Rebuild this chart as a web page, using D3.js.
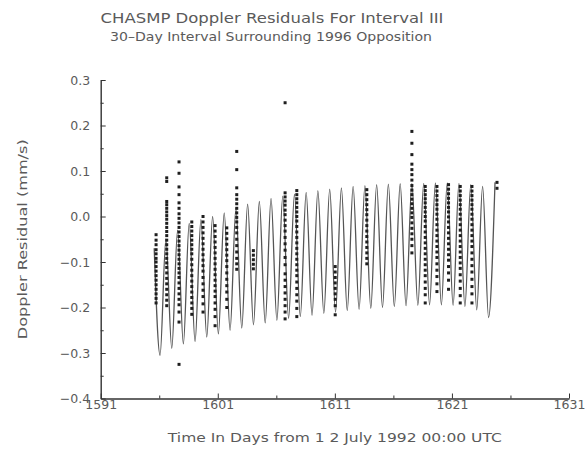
<!DOCTYPE html>
<html>
<head>
<meta charset="utf-8">
<script src="https://cdn.jsdelivr.net/npm/d3@7"></script>
<style>
  html, body { margin: 0; padding: 0; background: #fff; }
  svg { display: block; }
  text { font-family: "DejaVu Sans", sans-serif; fill: #5a5a5a; }
</style>
</head>
<body>
<svg id="chart" width="587" height="451"></svg>
<script>
// Axis settings
const xTicksMajor = [1591, 1601, 1611, 1621, 1631];
const xTicksMinor = [1596, 1606, 1616, 1626];
const yTicksMajor = [-0.4, -0.3, -0.2, -0.1, 0.0, 0.1, 0.2, 0.3];
const yTicksMinor = [-0.35, -0.25, -0.15, -0.05, 0.05, 0.15, 0.25];

// Model curve: successive daily maxima and minima of the fitted residual signal
const modelT = [
  1595.57, 1596.07, 1596.57, 1597.07, 1597.57, 1598.06, 1598.56, 1599.06, 1599.56, 1600.06,
  1600.56, 1601.05, 1601.55, 1602.05, 1602.55, 1603.05, 1603.55, 1604.05, 1604.55, 1605.05,
  1605.55, 1606.05, 1606.55, 1607.05, 1607.55, 1608.05, 1608.55, 1609.05, 1609.55, 1610.06,
  1610.56, 1611.06, 1611.56, 1612.06, 1612.56, 1613.07, 1613.57, 1614.07, 1614.57, 1615.07,
  1615.57, 1616.08, 1616.58, 1617.08, 1617.58, 1618.09, 1618.59, 1619.09, 1619.59, 1620.10,
  1620.60, 1621.10, 1621.60, 1622.11, 1622.61, 1623.12, 1623.62, 1624.13, 1624.68
];
const modelV = [
  -0.070, -0.305, -0.050, -0.290, -0.030, -0.280, -0.015, -0.275, -0.007, -0.265,
   0.000, -0.258,  0.008, -0.250,  0.018, -0.245,  0.027, -0.238,  0.033, -0.234,
   0.040, -0.228,  0.045, -0.224,  0.049, -0.220,  0.053, -0.217,  0.057, -0.213,
   0.060, -0.210,  0.063, -0.207,  0.066, -0.204,  0.068, -0.202,  0.070, -0.200,
   0.071, -0.198,  0.072, -0.196,  0.073, -0.195,  0.073, -0.194,  0.074, -0.194,
   0.074, -0.195,  0.073, -0.198,  0.070, -0.205,  0.066, -0.222,  0.075
];

// Tracking passes: time of each pass and the Doppler residuals measured in it (mm/s)
const passTimes = [
  1595.73, 1596.64, 1597.69, 1598.78, 1599.74, 1600.77, 1601.77, 1602.62, 1604.04,
  1606.75, 1607.75, 1611.03, 1613.73, 1617.58, 1618.72, 1619.72, 1620.71, 1621.71,
  1622.71, 1624.85
];
const passResiduals = [
  [-0.040, -0.052, -0.062, -0.073, -0.082, -0.092, -0.100, -0.110, -0.120, -0.130, -0.140,
   -0.150, -0.160, -0.170, -0.180, -0.190],
  [0.085, 0.077, 0.033, 0.026, 0.018, 0.010, 0.002, -0.006, -0.015, -0.024, -0.033, -0.042,
   -0.052, -0.062, -0.072, -0.082, -0.092, -0.102, -0.112, -0.124, -0.136, -0.148, -0.160,
   -0.172, -0.184, -0.196],
  [0.120, 0.095, 0.065, 0.048, 0.030, 0.018, 0.006, -0.004, -0.014, -0.024, -0.034, -0.044,
   -0.054, -0.064, -0.074, -0.084, -0.094, -0.104, -0.114, -0.124, -0.134, -0.146, -0.158,
   -0.170, -0.182, -0.194, -0.210, -0.232, -0.325],
  [-0.012, -0.022, -0.032, -0.042, -0.052, -0.062, -0.072, -0.082, -0.094, -0.106, -0.118,
   -0.130, -0.142, -0.154, -0.166, -0.178, -0.190, -0.202, -0.215],
  [0.000, -0.012, -0.024, -0.036, -0.048, -0.060, -0.072, -0.084, -0.096, -0.108, -0.120,
   -0.134, -0.148, -0.162, -0.176, -0.192, -0.210],
  [-0.020, -0.032, -0.044, -0.056, -0.068, -0.080, -0.092, -0.104, -0.116, -0.128, -0.140,
   -0.152, -0.164, -0.176, -0.190, -0.204, -0.220, -0.240],
  [-0.025, -0.037, -0.049, -0.061, -0.073, -0.085, -0.097, -0.110, -0.124, -0.138, -0.152,
   -0.166, -0.182, -0.200],
  [0.143, 0.103, 0.063, 0.048, 0.038, 0.028, 0.018, 0.008, -0.002, -0.012, -0.024, -0.036,
   -0.050, -0.064, -0.078, -0.092, -0.104, -0.116],
  [-0.075, -0.085, -0.095, -0.105, -0.115],
  [0.250, 0.052, 0.043, 0.034, 0.025, 0.014, 0.004, -0.008, -0.020, -0.032, -0.046, -0.060,
   -0.074, -0.090, -0.106, -0.126, -0.140, -0.154, -0.168, -0.182, -0.196, -0.210, -0.225],
  [0.057, 0.048, 0.039, 0.030, 0.020, 0.010, 0.000, -0.010, -0.022, -0.034, -0.046, -0.058,
   -0.070, -0.082, -0.094, -0.106, -0.118, -0.130, -0.144, -0.158, -0.172, -0.186, -0.202,
   -0.220],
  [-0.110, -0.122, -0.134, -0.146, -0.158, -0.170, -0.182, -0.196, -0.216],
  [0.059, 0.048, 0.037, 0.026, 0.015, 0.004, -0.008, -0.020, -0.032, -0.044, -0.056, -0.068,
   -0.080, -0.092, -0.104],
  [0.187, 0.161, 0.136, 0.115, 0.103, 0.092, 0.080, 0.068, 0.058, 0.048, 0.038, 0.028,
   0.018, 0.008, -0.002, -0.014, -0.026, -0.038, -0.050, -0.064, -0.080],
  [0.066, 0.057, 0.048, 0.039, 0.030, 0.020, 0.010, 0.000, -0.010, -0.022, -0.034, -0.046,
   -0.058, -0.070, -0.082, -0.094, -0.106, -0.118, -0.130, -0.144, -0.158, -0.172, -0.190],
  [0.066, 0.056, 0.046, 0.036, 0.026, 0.016, 0.005, -0.006, -0.018, -0.030, -0.042, -0.054,
   -0.066, -0.078, -0.090, -0.104, -0.118, -0.132, -0.148, -0.165],
  [0.070, 0.060, 0.050, 0.040, 0.030, 0.020, 0.010, -0.001, -0.012, -0.024, -0.036, -0.048,
   -0.060, -0.072, -0.084, -0.096, -0.110, -0.124, -0.140, -0.160],
  [0.066, 0.056, 0.046, 0.036, 0.026, 0.016, 0.005, -0.006, -0.018, -0.030, -0.042, -0.054,
   -0.066, -0.078, -0.090, -0.102, -0.114, -0.128, -0.142, -0.158, -0.174, -0.190],
  [0.066, 0.056, 0.046, 0.036, 0.026, 0.016, 0.005, -0.006, -0.018, -0.030, -0.042, -0.054,
   -0.066, -0.080, -0.094, -0.108, -0.122, -0.138, -0.154, -0.170, -0.190],
  [0.075, 0.062]
];

const titleText = "CHASMP Doppler Residuals For Interval III";
const subtitleText = "30\u2013Day Interval Surrounding 1996 Opposition";
const xTitle = "Time In Days from 1 2 July 1992 00:00 UTC";
const yTitle = "Doppler Residual (mm/s)";

const plot = { left: 100.7, right: 569, top: 80, bottom: 398.5 };

const svg = d3.select("#chart");

const x = d3.scaleLinear().domain([1591, 1631]).range([plot.left, plot.right]);
const y = d3.scaleLinear().domain([-0.4, 0.3]).range([plot.bottom, plot.top]);

// Titles
svg.append("text")
  .attr("x", 272).attr("y", 23)
  .attr("text-anchor", "middle")
  .attr("font-size", 14.5)
  .attr("textLength", 343).attr("lengthAdjust", "spacingAndGlyphs")
  .text(titleText);

svg.append("text")
  .attr("x", 271).attr("y", 40.5)
  .attr("text-anchor", "middle")
  .attr("font-size", 11.5)
  .attr("textLength", 322).attr("lengthAdjust", "spacingAndGlyphs")
  .text(subtitleText);

// Model curve
const modelPts = modelT.map((t, i) => ({ t, v: modelV[i] }));
svg.append("path")
  .datum(modelPts)
  .attr("fill", "none")
  .attr("stroke", "#555")
  .attr("stroke-width", 1.3)
  .attr("d", d3.line().x(d => x(d.t)).y(d => y(d.v)).curve(d3.curveMonotoneX));

// Residual points
const points = [];
passTimes.forEach((t, i) => passResiduals[i].forEach(v => points.push({ t, v })));
svg.append("g")
  .selectAll("rect")
  .data(points)
  .join("rect")
  .attr("x", d => x(d.t) - 1.5)
  .attr("y", d => y(d.v) - 1.5)
  .attr("width", 3)
  .attr("height", 3)
  .attr("fill", "#1e1e1e");

// Axes
const xAxis = svg.append("g")
  .attr("transform", `translate(0,${plot.bottom})`)
  .call(d3.axisBottom(x).tickValues(xTicksMajor).tickSize(-5).tickSizeOuter(0)
        .tickPadding(2).tickFormat(d3.format("d")));
svg.append("g")
  .attr("transform", `translate(0,${plot.bottom})`)
  .call(d3.axisBottom(x).tickValues(xTicksMinor).tickSize(-3).tickSizeOuter(0).tickFormat(""))
  .select(".domain").remove();

const yAxis = svg.append("g")
  .attr("transform", `translate(${plot.left},0)`)
  .call(d3.axisLeft(y).tickValues(yTicksMajor).tickSize(-5).tickSizeOuter(0)
        .tickPadding(10.5).tickFormat(d3.format(".1f")));
svg.append("g")
  .attr("transform", `translate(${plot.left},0)`)
  .call(d3.axisLeft(y).tickValues(yTicksMinor).tickSize(-3).tickSizeOuter(0).tickFormat(""))
  .select(".domain").remove();

svg.selectAll(".domain").attr("stroke", "#333").attr("stroke-width", 1.4);
svg.selectAll(".tick line").attr("stroke", "#333").attr("stroke-width", 1);
svg.selectAll(".tick text")
  .attr("font-family", "DejaVu Sans, sans-serif")
  .attr("font-size", 12.5)
  .attr("fill", "#5a5a5a");

// Axis titles
svg.append("text")
  .attr("x", (plot.left + plot.right) / 2).attr("y", 442)
  .attr("text-anchor", "middle")
  .attr("font-size", 12.5)
  .attr("textLength", 334).attr("lengthAdjust", "spacingAndGlyphs")
  .text(xTitle);

svg.append("text")
  .attr("transform", `translate(27,${(plot.top + plot.bottom) / 2}) rotate(-90)`)
  .attr("text-anchor", "middle")
  .attr("font-size", 12.5)
  .attr("textLength", 200).attr("lengthAdjust", "spacingAndGlyphs")
  .text(yTitle);
</script>
</body>
</html>
